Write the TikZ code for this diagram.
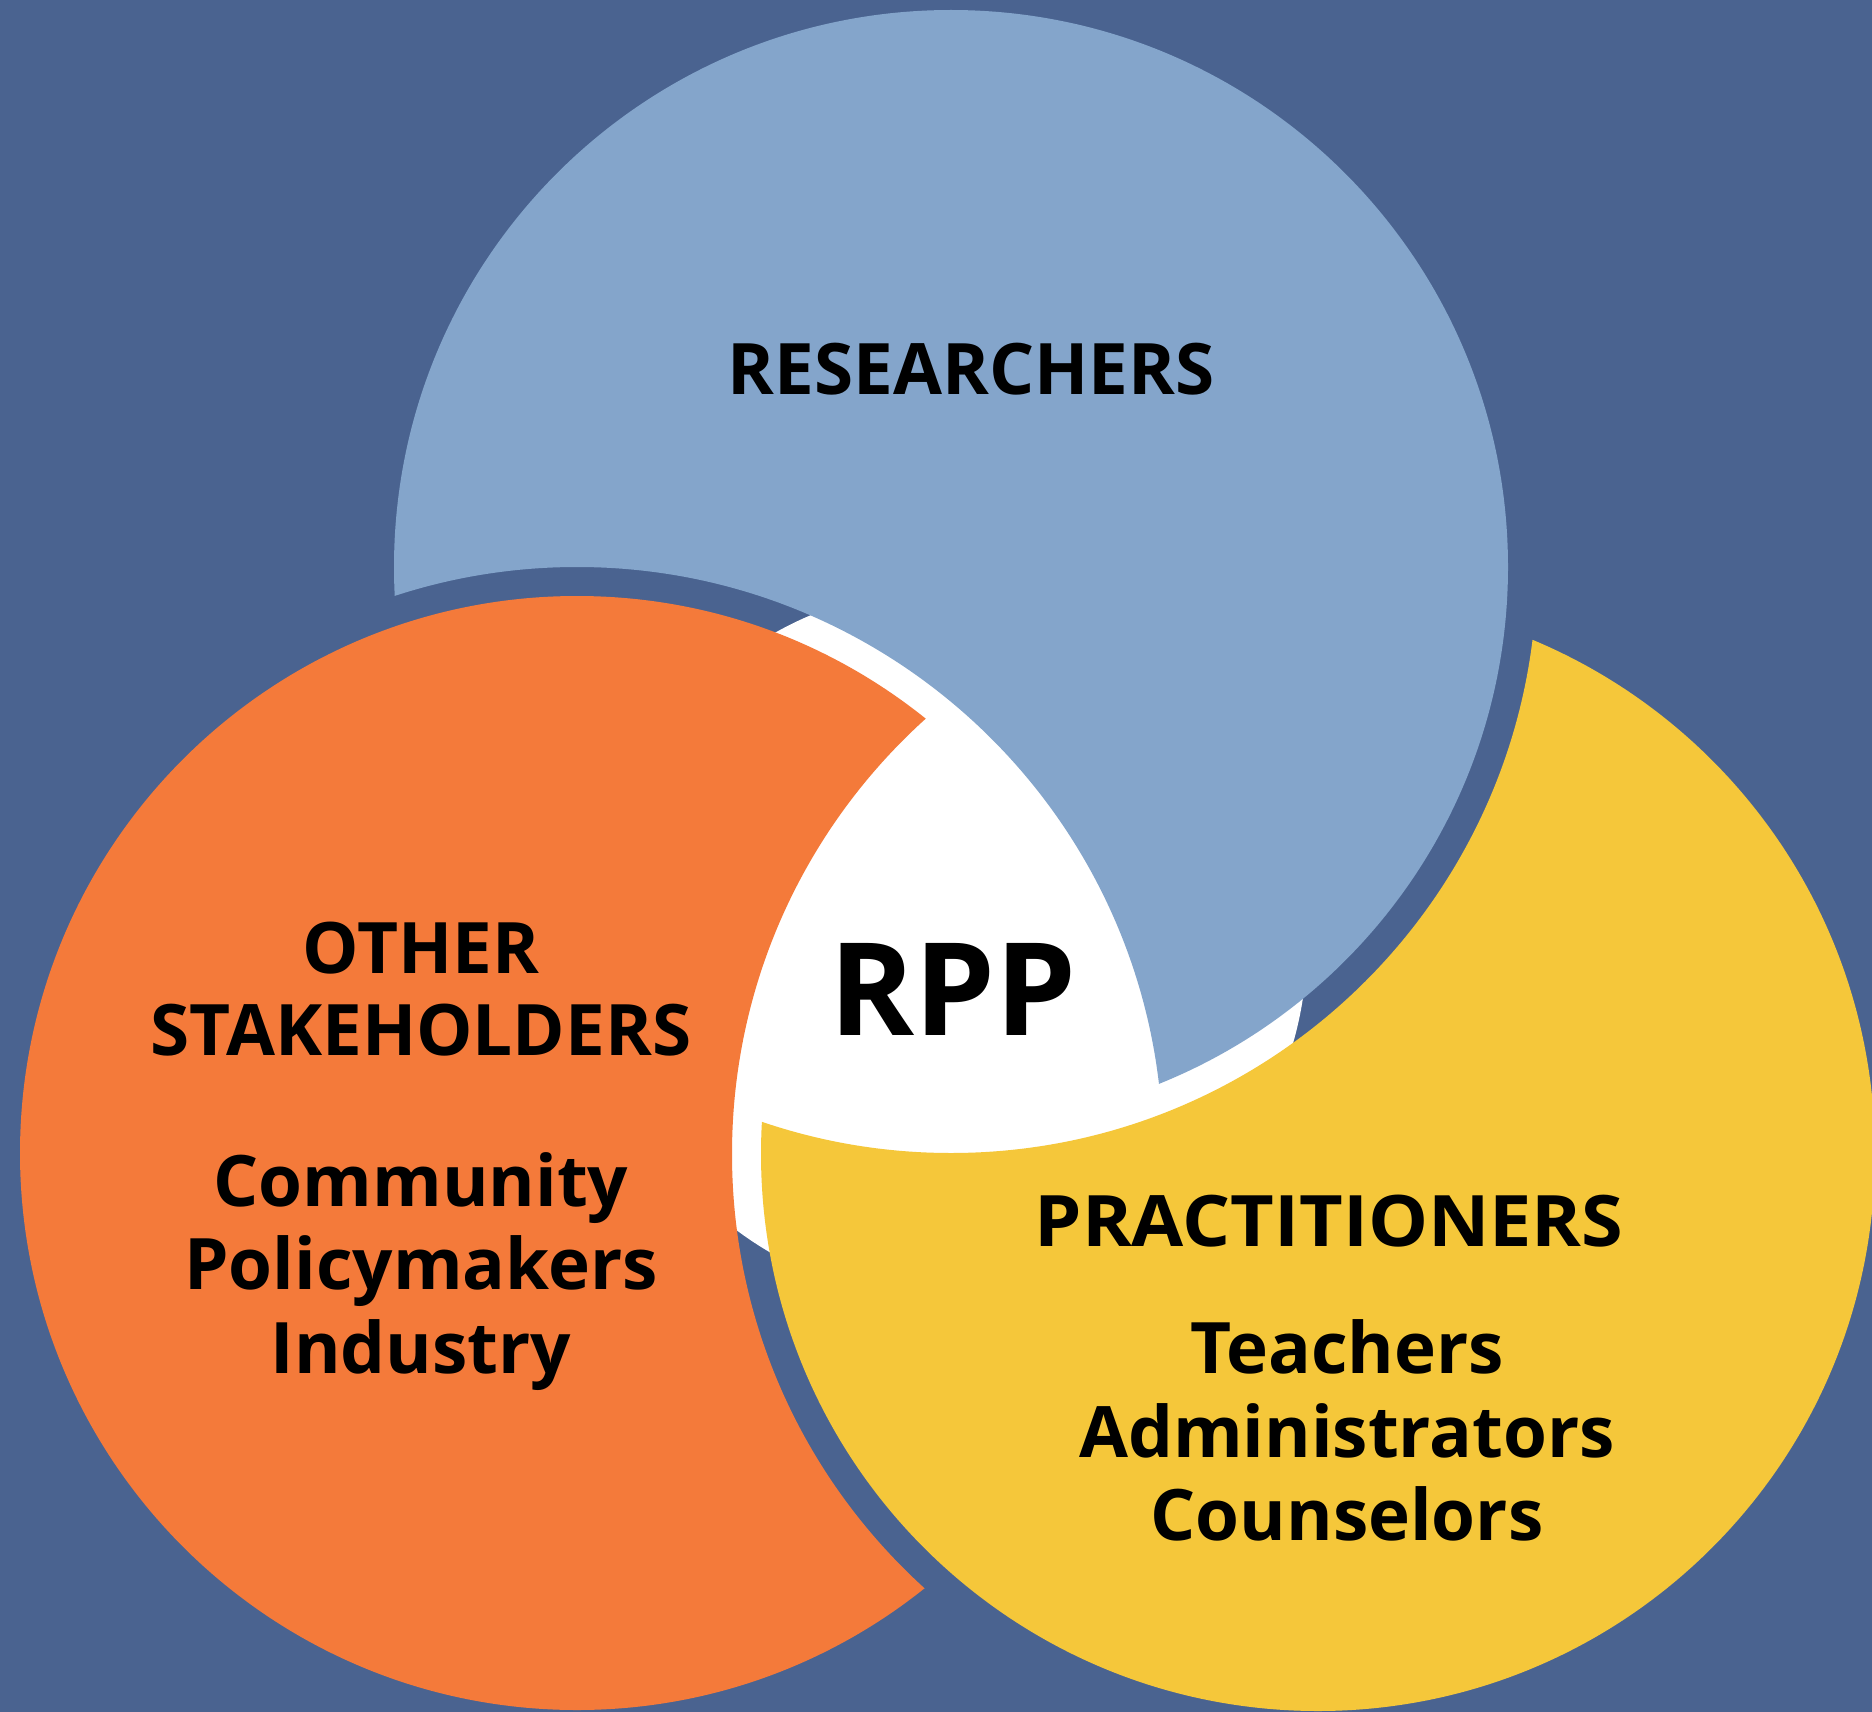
\documentclass[tikz,border=0pt]{standalone}
\usepackage{fontspec}
\usepackage{graphicx}
\setmainfont{Open Sans}
\definecolor{bgc}{HTML}{4A6390}
\definecolor{bluec}{HTML}{84A5CB}
\definecolor{orangec}{HTML}{F47A3A}
\definecolor{yellowc}{HTML}{F5C73A}
\begin{document}
\begin{tikzpicture}[x=1pt,y=-1pt,
  lbl/.style={font=\bfseries\fontsize{71}{83}\selectfont, anchor=base, inner sep=0pt, text=black},
  big/.style={font=\bfseries\fontsize{129}{140}\selectfont, anchor=base, inner sep=0pt, text=black}]
\useasboundingbox (0,0) rectangle (1872,1712);
\fill[bgc] (0,0) rectangle (1872,1712);
\coordinate (B) at (951,567);
\coordinate (O) at (577,1153);
\coordinate (Y) at (1318,1154);
\coordinate (W) at (950,944);
% white centre
\fill[white] (W) circle (357);
% blue (researchers), cut by enlarged orange
\begin{scope}[even odd rule]
  \clip (-300,-300) rectangle (2200,2000) (O) circle (586);
  \fill[bluec] (B) circle (557);
\end{scope}
% orange (other stakeholders), cut by enlarged yellow
\begin{scope}[even odd rule]
  \clip (-300,-300) rectangle (2200,2000) (Y) circle (586);
  \fill[orangec] (O) circle (557);
\end{scope}
% yellow (practitioners), cut by enlarged blue
\begin{scope}[even odd rule]
  \clip (-300,-300) rectangle (2200,2000) (B) circle (586);
  \fill[yellowc] (Y) circle (557);
\end{scope}
% labels
\node[lbl] (res) at (971,394) {RESEARCHERS};
\node[big] (rpp) at (953,1035) {RPP};
\node[lbl] (oth1) at (421,973) {OTHER};
\node[lbl] (oth2) at (421,1055) {STAKEHOLDERS};
\node[lbl] (com) at (421,1206) {Community};
\node[lbl] (pol) at (421,1289) {Policymakers};
\node[lbl] (ind) at (421,1373) {Industry};
\node[lbl] (pra) at (1329,1246) {\scalebox{1.064}[1]{PRACTITIONERS}};
\node[lbl] (tea) at (1347,1373) {Teachers};
\node[lbl] (adm) at (1347,1457) {Administrators};
\node[lbl] (cou) at (1347,1540) {Counselors};
\end{tikzpicture}
\end{document}
